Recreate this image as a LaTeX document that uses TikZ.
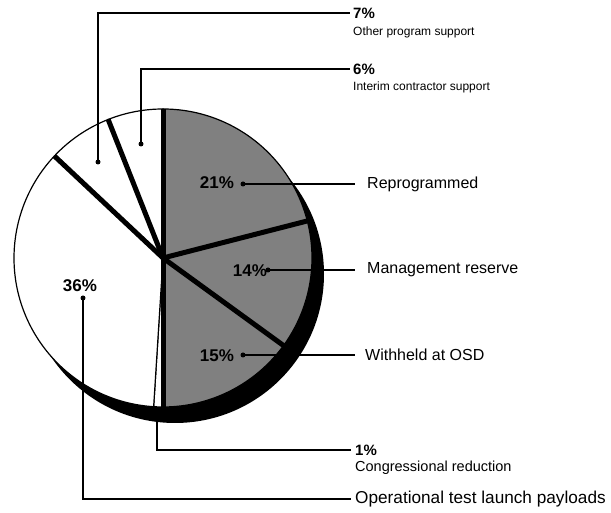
\documentclass[tikz,border=0pt]{standalone}
\usepackage{fontspec}
\setmainfont{Liberation Sans}
\newcommand\pieslice[3]{\filldraw[#3] (C) -- ++(#1:149) arc[start angle=#1, end angle=#2, radius=149] -- cycle;}
\begin{document}
\begin{tikzpicture}[x=1pt,y=1pt,
  lead/.style={line width=1.4pt},
  dotm/.style={circle, fill=black, inner sep=0pt, minimum size=5pt},
  pct/.style={font=\fontsize{15}{15}\selectfont\bfseries, anchor=west, inner sep=0pt},
  lab/.style={font=\fontsize{16}{16}\selectfont, anchor=west, inner sep=0pt},
  smlab/.style={font=\fontsize{12}{12}\selectfont, anchor=west, inner sep=0pt},
  inpct/.style={font=\fontsize{17}{17}\selectfont\bfseries, inner sep=0pt},
  shaded/.style={fill=black!50, draw=black, line width=1.2pt},
  plain/.style={fill=white, draw=black, line width=1.2pt},
  sep/.style={line width=5pt}]
\useasboundingbox (0,0) rectangle (611,513);
\coordinate (C) at (163,255);
% shadow
\fill[black] (175,239) circle (149);
% slices
\pieslice{90}{14.4}{shaded}
\pieslice{14.4}{-36}{shaded}
\pieslice{-36}{-90}{shaded}
\pieslice{-90}{-93.6}{plain}
\pieslice{-93.6}{-223.2}{plain}
\pieslice{136.8}{111.6}{plain}
\pieslice{111.6}{90}{plain}
% separators
\foreach \a in {90,14.4,-36,-90,136.8,111.6} \draw[sep] (C) -- ++(\a:149);
% inner labels
\node[inpct] (t21) at (217,330) {21\%};
\node[inpct] (t14) at (250,242) {14\%};
\node[inpct] (t15) at (217,157) {15\%};
\node[inpct] (t36) at (80,227) {36\%};
% dots
\node[dotm] (d21) at (243,329) {};
\node[dotm] (d14) at (268,243) {};
\node[dotm] (d15) at (243,158) {};
\node[dotm] (d36) at (83,215) {};
\node[dotm] (d7) at (98,351) {};
\node[dotm] (d6) at (141,369) {};
\coordinate (d1) at (157,93);
% right labels
\node[pct] (p7) at (353,500) {7\%};
\node[smlab] (l7) at (353,481) {Other program support};
\node[pct] (p6) at (353,444) {6\%};
\node[smlab] (l6) at (353,426) {Interim contractor support};
\node[lab] (lr) at (367,329) {Reprogrammed};
\node[lab] (lm) at (367,243) {Management reserve};
\node[lab] (lw) at (365,158) {Withheld at OSD};
\node[pct] (p1) at (355,63) {1\%};
\node[lab, font=\fontsize{14.5}{14.5}\selectfont] (l1) at (355,45) {Congressional reduction};
\node[lab, font=\fontsize{17.2}{17.2}\selectfont] (lo) at (355,14) {Operational test launch payloads};
% leaders
\draw[lead] (d7.center) |- ([xshift=-3pt]p7.west);
\draw[lead] (d6.center) |- ([xshift=-3pt]p6.west);
\draw[lead] (d21.center) -- ([xshift=-12pt]lr.west);
\draw[lead] (d14.center) -- ([xshift=-12pt]lm.west);
\draw[lead] (d15.center) -- ([xshift=-10pt]lw.west);
\draw[lead] (d1) |- ([xshift=-4pt]p1.west);
\draw[lead] (d36.center) |- ([xshift=-4pt]lo.west);
\end{tikzpicture}
\end{document}
